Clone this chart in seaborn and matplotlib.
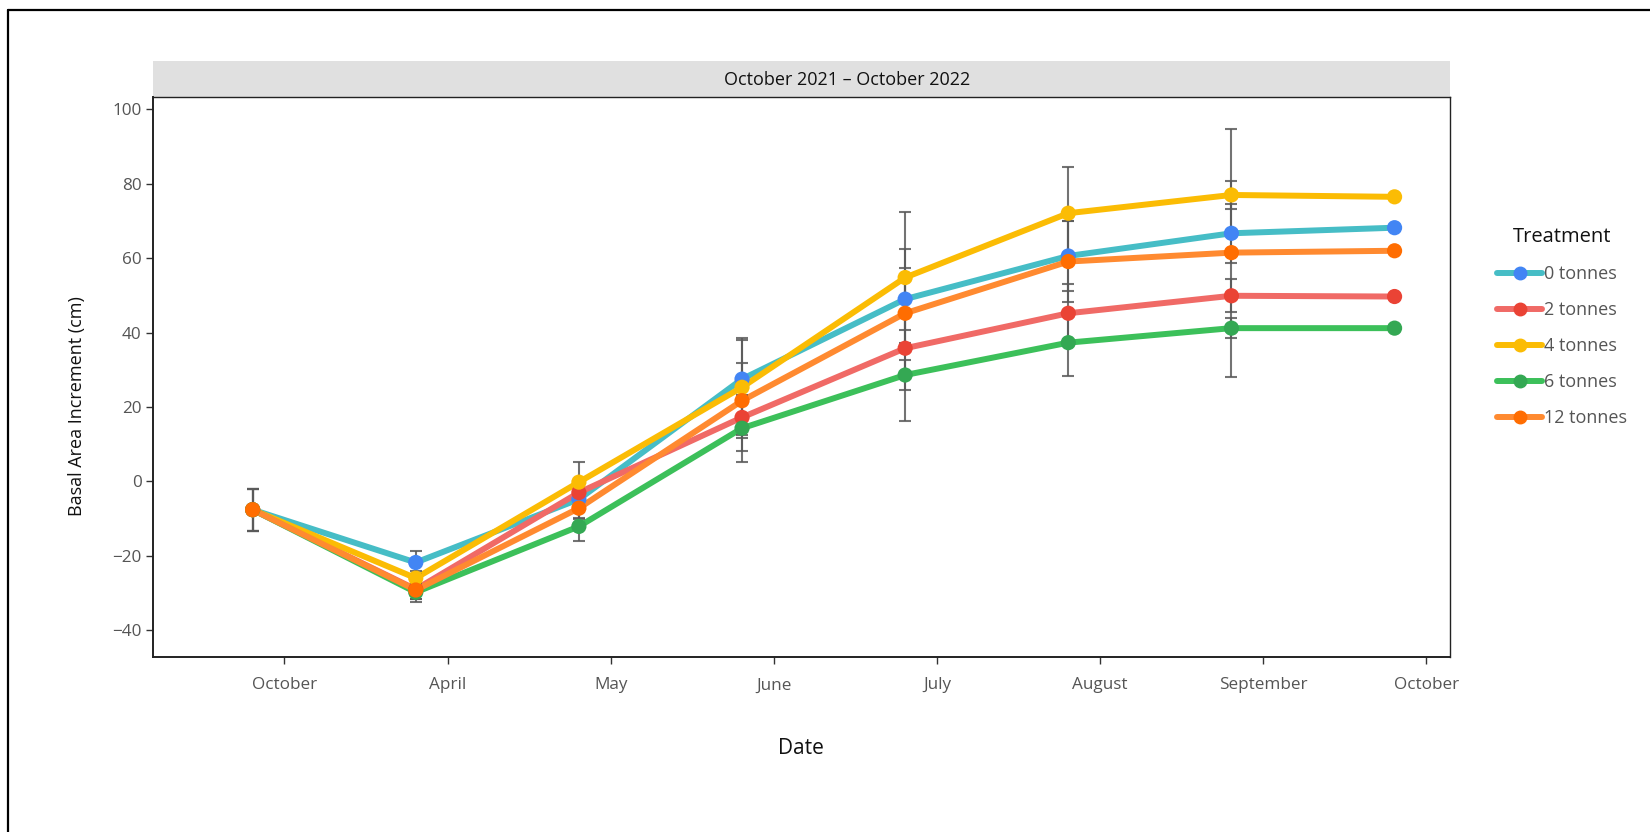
import numpy as np
import pandas as pd
import matplotlib
matplotlib.use("Agg")
import matplotlib.pyplot as plt
from matplotlib.lines import Line2D
from matplotlib.patches import Rectangle
import seaborn as sns

# ---------------- data ----------------
tick_labels = ["October", "April", "May", "June", "July", "August", "September", "October"]
treatments = ["0 tonnes", "2 tonnes", "4 tonnes", "6 tonnes", "12 tonnes"]

bai_0t = [-7.6, -21.8, -4.8, 27.5, 49.0, 60.6, 66.7, 68.2]
bai_2t = [-7.6, -29.0, -3.0, 17.2, 35.8, 45.2, 49.9, 49.7]
bai_4t = [-7.6, -26.0, -0.2, 25.3, 54.8, 72.1, 77.0, 76.5]
bai_6t = [-7.6, -29.8, -12.1, 14.3, 28.6, 37.3, 41.2, 41.2]
bai_12t = [-7.6, -29.2, -7.2, 21.7, 45.2, 59.1, 61.5, 62.0]

se_0t = [5.6, 3.0, 5.0, 11.0, 8.3, 9.3, 8.0, np.nan]
se_2t = [5.6, 2.5, 3.0, 9.0, 19.5, 8.0, 4.4, np.nan]
se_4t = [5.6, 2.0, 5.5, 12.7, 17.5, 12.3, 3.8, np.nan]
se_6t = [5.6, 2.5, 3.8, 9.0, 4.0, 8.9, 2.7, np.nan]
se_12t = [5.6, 2.5, 3.0, 10.0, 17.3, 10.8, 33.3, np.nan]

line_colors = ["#46BDC6", "#F06A66", "#FBBC04", "#3CC05A", "#FF8A30"]
point_colors = ["#4285F4", "#EA4335", "#FBBC04", "#34A853", "#FF6D01"]

values = [bai_0t, bai_2t, bai_4t, bai_6t, bai_12t]
errors = [se_0t, se_2t, se_4t, se_6t, se_12t]

n = len(tick_labels)
rows = []
for t, v, e in zip(treatments, values, errors):
    for i in range(n):
        rows.append({"pos": i, "Treatment": t, "BAI": v[i], "SE": e[i]})
df = pd.DataFrame(rows)

# ---------------- figure ----------------
sns.set_theme(style="white")
plt.rcParams["font.family"] = ["Open Sans", "DejaVu Sans"]

fig = plt.figure(figsize=(16.5, 8.32), dpi=100)
ax = fig.add_axes([0.0925, 0.2108, 0.7863, 0.6729])

line_pal = dict(zip(treatments, line_colors))
pt_pal = dict(zip(treatments, point_colors))

sns.lineplot(data=df, x="pos", y="BAI", hue="Treatment", palette=line_pal,
             hue_order=treatments, linewidth=4.3, ax=ax, legend=False,
             sort=True, zorder=2)

for t in treatments:
    sub = df[df["Treatment"] == t]
    ax.errorbar(sub["pos"], sub["BAI"], yerr=sub["SE"], fmt="none",
                ecolor="#5a5a5a", elinewidth=1.5, capsize=4.5, capthick=1.5,
                alpha=0.85, zorder=3)

sns.scatterplot(data=df, x="pos", y="BAI", hue="Treatment", palette=pt_pal,
                hue_order=treatments, s=120, edgecolor="none", ax=ax,
                legend=False, zorder=4)

ax.set_xlim(-0.613, 7.34)
ax.set_ylim(-47.1, 103.4)
ax.set_xticks(np.arange(n) + 0.195)
ax.set_xticklabels(tick_labels)
ax.set_yticks(np.arange(-40, 101, 20))

ax.tick_params(axis="both", which="both", direction="out", length=5, width=1,
               color="#333333", labelcolor="#555555", labelsize=12.3,
               bottom=True, left=True)
ax.tick_params(axis="x", pad=10)
ax.tick_params(axis="y", pad=3)

for s in ["left", "bottom"]:
    ax.spines[s].set_color("#222222")
    ax.spines[s].set_linewidth(1.4)
for s in ["top", "right"]:
    ax.spines[s].set_color("#222222")
    ax.spines[s].set_linewidth(1.0)

ax.set_xlabel("Date", fontsize=15, color="#111111", labelpad=32)
ax.set_ylabel("Basal Area Increment (cm)", fontsize=13, color="#111111")
ax.yaxis.set_label_coords(-0.051, 0.447)

# facet strip
fig.add_artist(Rectangle((0.0925, 0.8837), 0.7863, 0.043, transform=fig.transFigure,
                         facecolor="#E0E0E0", edgecolor="none", zorder=0))
fig.text(0.5134, 0.904, "October 2021 \u2013 October 2022",
         ha="center", va="center", fontsize=13, color="#111111")

# legend
handles = [Line2D([0], [0], color=lc, linewidth=4.3, marker="o", markersize=9,
                  markerfacecolor=pc, markeredgecolor=pc)
           for lc, pc in zip(line_colors, point_colors)]
leg = fig.legend(handles, treatments, title="Treatment", loc="upper left",
                 bbox_to_anchor=(0.903, 0.736), frameon=False, fontsize=13,
                 title_fontsize=14.5, handlelength=2.5, handletextpad=0.1,
                 labelspacing=1.0, borderaxespad=0)
for txt in leg.get_texts():
    txt.set_color("#555555")
leg.get_title().set_color("#111111")

# outer border (top & left visible)
fig.add_artist(Line2D([0.0051, 1.0], [0.9874, 0.9874], transform=fig.transFigure,
                      color="black", linewidth=1.6))
fig.add_artist(Line2D([0.0051, 0.0051], [0.0, 0.9874], transform=fig.transFigure,
                      color="black", linewidth=1.6))

fig.savefig("out.png", dpi=100, facecolor="white")
